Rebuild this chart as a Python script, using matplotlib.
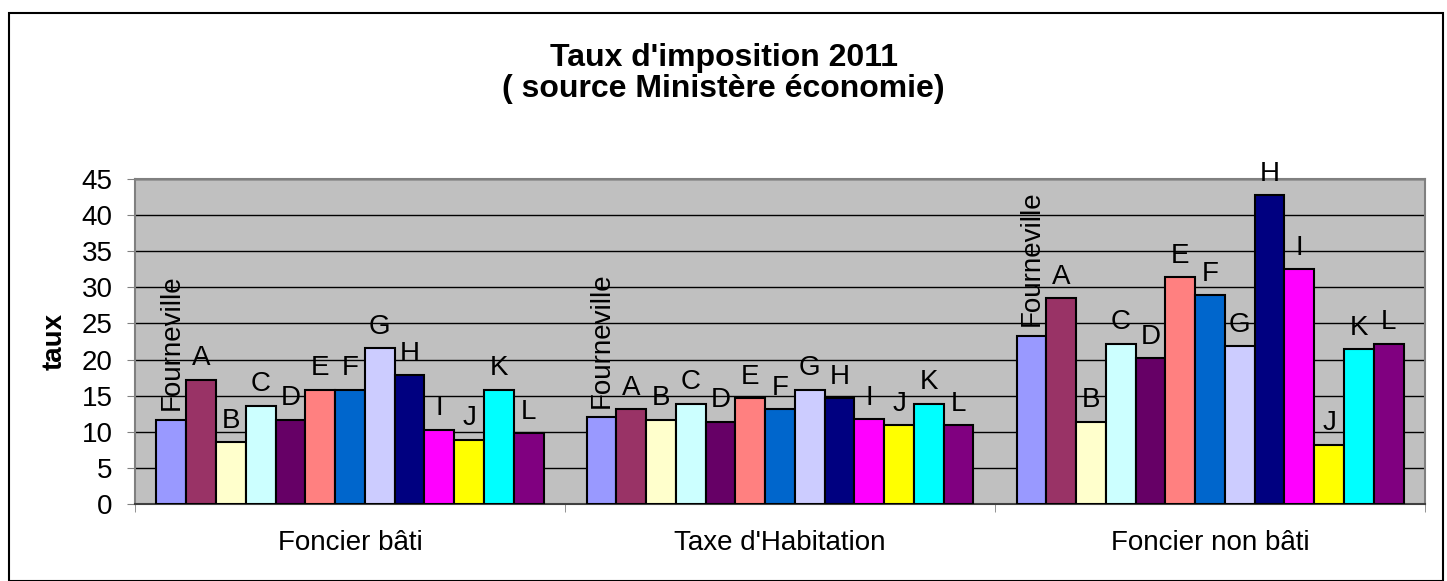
import matplotlib.pyplot as plt
import numpy as np
from matplotlib.patches import Rectangle

plt.rcParams['font.family'] = ['Liberation Sans', 'DejaVu Sans']

categories = ['Foncier bâti', "Taxe d'Habitation", 'Foncier non bâti']
series = ['Fourneville', 'A', 'B', 'C', 'D', 'E', 'F', 'G', 'H', 'I', 'J', 'K', 'L']
colors = ['#9999FF', '#993366', '#FFFFCC', '#CCFFFF', '#660066', '#FF8080', '#0066CC',
          '#CCCCFF', '#000080', '#FF00FF', '#FFFF00', '#00FFFF', '#800080']
foncier_bati = [11.7, 17.2, 8.6, 13.6, 11.7, 15.85, 15.85, 21.6, 17.8, 10.3, 8.9, 15.85, 9.8]
taxe_habitation = [12.0, 13.1, 11.7, 13.9, 11.4, 14.7, 13.1, 15.85, 14.7, 11.75, 10.9, 13.9, 10.9]
foncier_non_bati = [23.3, 28.5, 11.4, 22.2, 20.2, 31.4, 28.9, 21.9, 42.8, 32.5, 8.2, 21.4, 22.2]

values = np.array([foncier_bati, taxe_habitation, foncier_non_bati])

fig = plt.figure(figsize=(14.47, 5.81), dpi=100)
ax = fig.add_axes([135 / 1447, 77 / 581, 1290 / 1447, 325 / 581])
ax.set_facecolor('#C0C0C0')

n = len(series)
w = 0.9 / n
x = np.arange(len(categories))
for i, name in enumerate(series):
    pos = x - 0.45 + w * (i + 0.5)
    ax.bar(pos, values[:, i], width=w, color=colors[i], edgecolor='black', linewidth=1.5, zorder=3)
    for px, v in zip(pos, values[:, i]):
        if name == 'Fourneville':
            ax.annotate(name, (px, v), xytext=(0, 7), textcoords='offset points',
                        ha='center', va='bottom', rotation=90, fontsize=20, zorder=4)
        else:
            ax.annotate(name, (px, v), xytext=(0, 6), textcoords='offset points',
                        ha='center', va='bottom', fontsize=20, zorder=4, annotation_clip=False)

ax.set_xlim(-0.5, len(categories) - 0.5)
ax.set_ylim(0, 45)
ax.set_yticks(np.arange(0, 46, 5))
ax.yaxis.grid(True, color='black', linewidth=1, zorder=1)
ax.set_axisbelow(True)

ax.set_xticks(x)
ax.set_xticklabels(categories, fontsize=20)
ax.tick_params(axis='x', which='major', length=0, pad=19)
ax.set_xticks(np.arange(-0.5, len(categories), 1), minor=True)
ax.tick_params(axis='x', which='minor', length=6, color='#808080', direction='out')
ax.tick_params(axis='y', labelsize=20, length=6, color='#808080', pad=10)

for s in ['top', 'right', 'left']:
    ax.spines[s].set_color('#808080')
    ax.spines[s].set_linewidth(1.5)
ax.spines['bottom'].set_color('#404040')
ax.spines['bottom'].set_linewidth(1.5)

ax.set_ylabel('taux', fontsize=20, fontweight='bold', labelpad=10)

fig.text(0.5, 1 - 58 / 581, "Taux d'imposition 2011", ha='center', va='center',
         fontsize=23, fontweight='bold')
fig.text(0.5, 1 - 89 / 581, "( source Ministère économie)", ha='center', va='center',
         fontsize=23, fontweight='bold')

fig.patches.append(Rectangle((9 / 1447, 0.5 / 581), 1434 / 1447, 568 / 581, transform=fig.transFigure,
                             fill=False, edgecolor='black', linewidth=1.5))

fig.savefig('out.png', dpi=100)
